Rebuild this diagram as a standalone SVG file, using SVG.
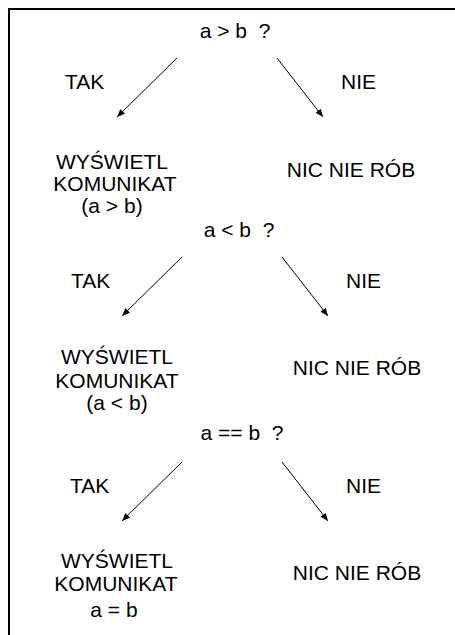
<svg xmlns="http://www.w3.org/2000/svg" width="455" height="635" viewBox="0 0 455 635">
  <style>
    text { font-family: "Liberation Sans", Arial, sans-serif; font-size: 21px; fill: #000; }
    .c { text-anchor: middle; }
    .edge { stroke: #000; stroke-width: 1; fill: none; marker-end: url(#arrow); }
    .frame { stroke: #000; stroke-width: 2; fill: none; }
  </style>
  <defs>
    <marker id="arrow" viewBox="0 0 10 10" refX="10" refY="5" markerWidth="8" markerHeight="8" markerUnits="userSpaceOnUse" orient="auto">
      <path d="M0,1 L10,5 L0,9 z" fill="#000"/>
    </marker>
  </defs>
  <rect width="455" height="635" fill="#fff"/>
  <!-- frame: top and left edges only -->
  <path class="frame" d="M9,635 V9 H455"/>

  <g id="connectors">
    <line class="edge" x1="177" y1="58" x2="117" y2="117"/>
    <line class="edge" x1="277" y1="58" x2="323" y2="117"/>
    <line class="edge" x1="182" y1="257" x2="122" y2="316"/>
    <line class="edge" x1="282" y1="257" x2="328" y2="316"/>
    <line class="edge" x1="182" y1="462" x2="122" y2="521"/>
    <line class="edge" x1="282" y1="462" x2="328" y2="521"/>
  </g>

  <!-- first test -->
  <g id="q1"><text class="c" x="235" y="38" xml:space="preserve">a &gt; b  ?</text></g>
  <g id="tak1"><text x="65" y="89">TAK</text></g>
  <g id="nie1"><text x="341" y="89">NIE</text></g>
  <g id="yes1">
    <text class="c" x="112" y="169">WYŚWIETL</text>
    <text class="c" x="115" y="191">KOMUNIKAT</text>
    <text class="c" x="112" y="213">(a &gt; b)</text>
  </g>
  <g id="no1"><text class="c" x="351" y="177">NIC NIE RÓB</text></g>

  <!-- second test -->
  <g id="q2"><text class="c" x="239" y="237" xml:space="preserve">a &lt; b  ?</text></g>
  <g id="tak2"><text x="71" y="288">TAK</text></g>
  <g id="nie2"><text x="346" y="288">NIE</text></g>
  <g id="yes2">
    <text class="c" x="117" y="364">WYŚWIETL</text>
    <text class="c" x="117" y="388">KOMUNIKAT</text>
    <text class="c" x="117" y="410">(a &lt; b)</text>
  </g>
  <g id="no2"><text class="c" x="357" y="375">NIC NIE RÓB</text></g>

  <!-- third test -->
  <g id="q3"><text class="c" x="242" y="440" xml:space="preserve">a == b  ?</text></g>
  <g id="tak3"><text x="70" y="493">TAK</text></g>
  <g id="nie3"><text x="346" y="493">NIE</text></g>
  <g id="yes3">
    <text class="c" x="117" y="568">WYŚWIETL</text>
    <text class="c" x="116" y="591">KOMUNIKAT</text>
    <text class="c" x="114" y="617">a = b</text>
  </g>
  <g id="no3"><text class="c" x="357" y="580">NIC NIE RÓB</text></g>
</svg>
